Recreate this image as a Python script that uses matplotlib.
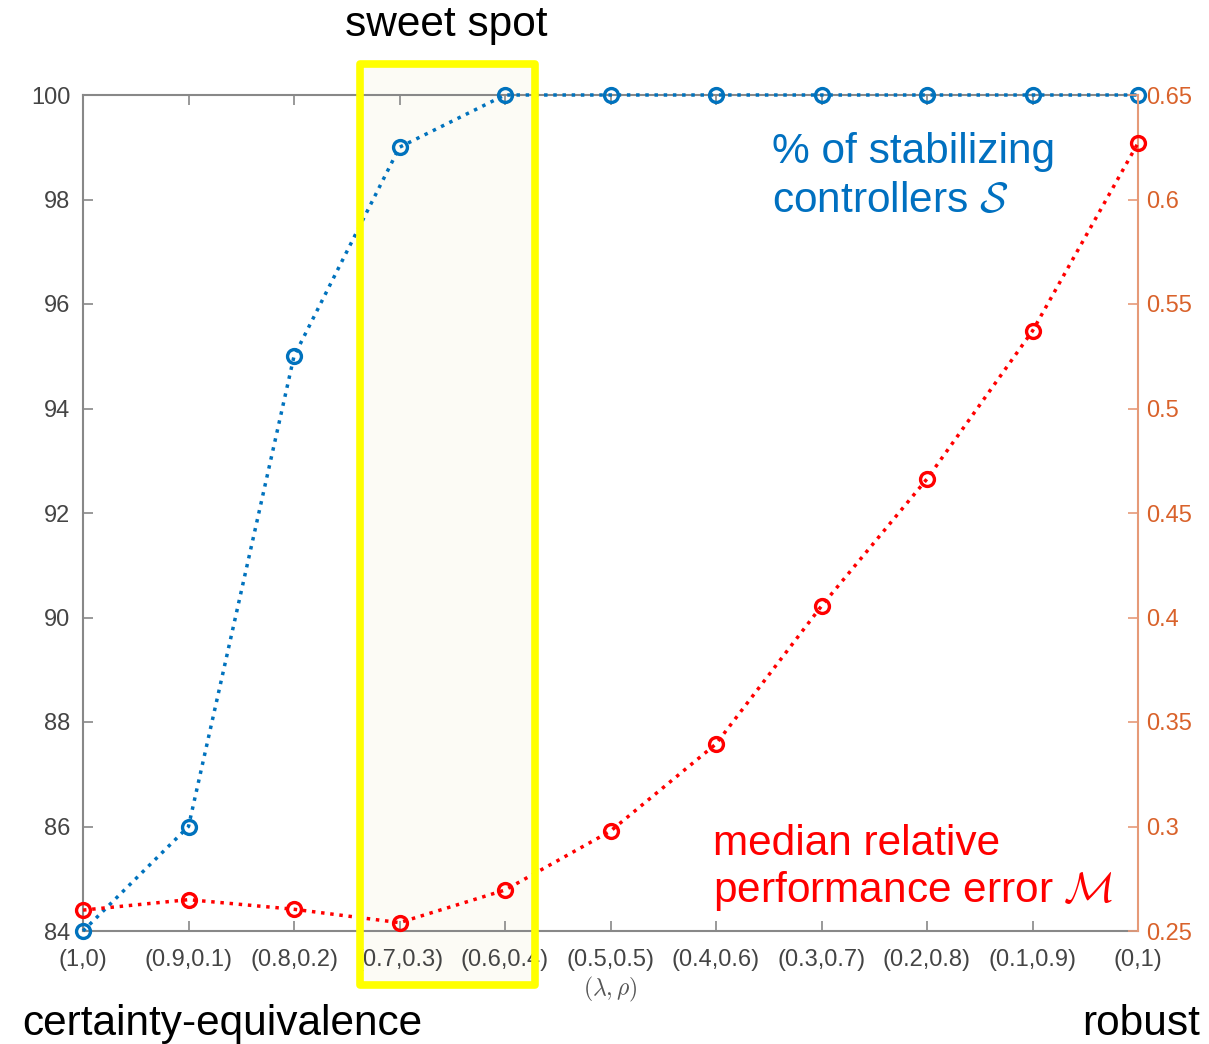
import matplotlib
matplotlib.use('Agg')
import matplotlib.pyplot as plt
import matplotlib.transforms as mtransforms
from matplotlib.patches import Rectangle
from matplotlib.ticker import FormatStrFormatter

plt.rcParams['font.family'] = ['Liberation Sans', 'DejaVu Sans']
plt.rcParams['mathtext.fontset'] = 'cm'

# data
pairs = ['(1,0)', '(0.9,0.1)', '(0.8,0.2)', '(0.7,0.3)', '(0.6,0.4)', '(0.5,0.5)',
         '(0.4,0.6)', '(0.3,0.7)', '(0.2,0.8)', '(0.1,0.9)', '(0,1)']
stabilizing = [84, 86, 95, 99, 100, 100, 100, 100, 100, 100, 100]
median_err = [0.260, 0.265, 0.2604, 0.254, 0.2696, 0.2978, 0.3395, 0.4055, 0.4663, 0.5371, 0.627]
left_ticks = [84, 86, 88, 90, 92, 94, 96, 98, 100]
right_ticks = [0.25, 0.3, 0.35, 0.4, 0.45, 0.5, 0.55, 0.6, 0.65]
sweet_lo, sweet_hi = 2.63, 4.28

blue = '#0072BD'
red = '#FF0000'
gray = '#888888'
orange_sp = '#E69A78'
orange_tx = '#D9622B'
W, H = 1209, 1044

fig = plt.figure(figsize=(12.09, 10.44), dpi=100)
ax = fig.add_axes([83 / W, 1 - 931 / H, (1138 - 83) / W, (931 - 95) / H])
ax.patch.set_alpha(0)
x = list(range(len(pairs)))

ax.plot(x, stabilizing, ':', color=blue, lw=2.5, marker='o', ms=10, mfc='none', mew=2.4, clip_on=False, zorder=3)
ax.set_xlim(0, 10)
ax.set_ylim(84, 100)
ax.set_yticks(left_ticks)
ax.set_xticks(x)
ax.set_xticklabels(pairs)
ax.tick_params(axis='both', direction='in', length=7, width=1.2, color=gray,
               labelsize=17, labelcolor='#444444')
ax.tick_params(axis='x', top=True, pad=13)
ax.tick_params(axis='y', pad=9)
for s in ['left', 'top', 'bottom']:
    ax.spines[s].set_color(gray)
    ax.spines[s].set_linewidth(1.5)
ax.spines['right'].set_visible(False)
ax.set_xlabel(r'$(\lambda,\rho)$', fontsize=17, color='#555555', labelpad=3)

ax2 = ax.twinx()
ax2.plot(x, median_err, ':', color=red, lw=2.5, marker='o', ms=10, mfc='none', mew=2.4, clip_on=False, zorder=3)
ax2.set_ylim(0.25, 0.65)
ax2.set_yticks(right_ticks)
ax2.yaxis.set_major_formatter(FormatStrFormatter('%g'))
ax2.tick_params(axis='y', direction='in', length=7, width=1.2, color=orange_sp,
                labelsize=17, labelcolor=orange_tx, pad=6)
for s in ['left', 'top', 'bottom']:
    ax2.spines[s].set_visible(False)
ax2.spines['right'].set_color(orange_sp)
ax2.spines['right'].set_linewidth(1.5)

# sweet spot box: light fill behind, yellow frame on top
tr = mtransforms.blended_transform_factory(ax.transData, fig.transFigure)
y0, y1 = 1 - 984.5 / H, 1 - 63.5 / H
fig.patches.append(Rectangle((sweet_lo, y0), sweet_hi - sweet_lo, y1 - y0, transform=tr,
                             facecolor='#FCFBF5', edgecolor='none', zorder=-1))
fig.patches.append(Rectangle((sweet_lo, y0), sweet_hi - sweet_lo, y1 - y0, transform=tr,
                             facecolor='none', edgecolor='#FFFF00', lw=5.5, zorder=10,
                             joinstyle='round'))

fs = 30.5
fig.text(446 / W, 1 - 25 / H, 'sweet spot', fontsize=fs, ha='center', va='center')
fig.text(772 / W, 1 - 162.7 / H, '% of stabilizing', fontsize=fs, color='#0070C0', va='baseline')
fig.text(772 / W, 1 - 211.7 / H, r'controllers $\mathcal{S}$', fontsize=fs, color='#0070C0', va='baseline')
fig.text(713 / W, 1 - 855 / H, 'median relative', fontsize=fs, color=red, va='baseline')
fig.text(713 / W, 1 - 901.7 / H, r'performance error $\mathcal{M}$', fontsize=fs, color=red, va='baseline')
fig.text(22 / W, 1 - 1035 / H, 'certainty-equivalence', fontsize=fs, va='baseline')
fig.text(1200 / W, 1 - 1035 / H, 'robust', fontsize=fs, va='baseline', ha='right')

fig.savefig('out.png', dpi=100)
